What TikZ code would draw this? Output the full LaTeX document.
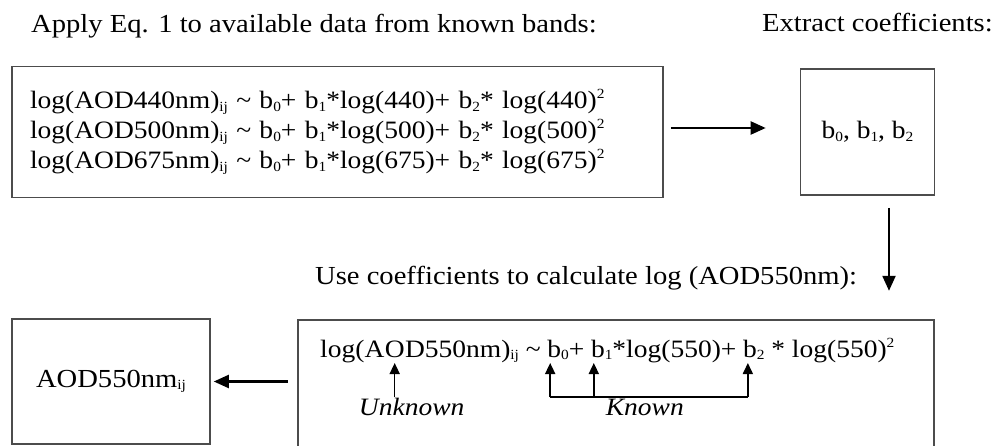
\documentclass[tikz,border=0pt]{standalone}
\usepackage{fontspec}
\setmainfont{Liberation Serif}[FakeStretch=1.1]
\usetikzlibrary{arrows.meta,positioning}

\newcommand{\lo}[1]{\raisebox{-0.1em}{\fontsize{14}{14}\selectfont #1}}
\newcommand{\hi}[1]{\raisebox{0.4em}{\fontsize{14}{14}\selectfont #1}}

\begin{document}
\begin{tikzpicture}[x=1pt,y=-1pt,
		txt/.style={inner sep=0pt,font=\fontsize{26}{30}\selectfont},
		eq/.style={inner sep=0pt,font=\fontsize{25}{30}\selectfont},
		note/.style={inner sep=0pt,font=\fontsize{25}{30}\selectfont\itshape},
		box/.style={draw=black!70,line width=1.6pt,inner sep=0pt,font=\fontsize{25}{30}\selectfont},
		arr/.style={line width=2.2pt,-{Triangle[length=15pt,width=13pt]}},
		smallarr/.style={line width=1.6pt,-{Triangle[length=11pt,width=10pt]}}]
		\useasboundingbox (0,0) rectangle (993,446);
		\clip (0,0) rectangle (993,446);
		\node[txt,anchor=base west] (applytitle) at (31,33) {Apply Eq. 1 to available data from known bands:};
		\node[txt,anchor=base west] (extracttitle) at (762,32) {Extract coefficients:};
		\node[box,minimum width=651,minimum height=131,text width=615pt,inner xsep=18pt,align=left] (knownbox) at (337.5,132)
			{log(AOD440nm)\lo{ij} \textasciitilde\ b\lo{0}+ b\lo{1}*log(440)+ b\lo{2}* log(440)\hi{2}\\
			 log(AOD500nm)\lo{ij} \textasciitilde\ b\lo{0}+ b\lo{1}*log(500)+ b\lo{2}* log(500)\hi{2}\\
			 log(AOD675nm)\lo{ij} \textasciitilde\ b\lo{0}+ b\lo{1}*log(675)+ b\lo{2}* log(675)\hi{2}};
		\node[box,minimum width=134,minimum height=126] (coefbox) at (867.5,132) {b\lo{0}, b\lo{1}, b\lo{2}};
		\node[txt,anchor=base west] (usetitle) at (315,285) {Use coefficients to calculate log (AOD550nm):};
		\node[box,minimum width=636,minimum height=150] (solvebox) at (616,395) {};
		\node[box,minimum width=198,minimum height=125,font=\fontsize{26}{30}\selectfont] (resultbox) at (111,381.5) {AOD550nm\lo{ij}};

		\node[eq,anchor=base west] (eqlog) at (320,357) {log(A};
		\node[eq,anchor=base west] (equnk) at (eqlog.base east) {O};
		\node[eq,anchor=base west] (eqmid) at (equnk.base east) {D550nm)\lo{ij} \textasciitilde\kern.25em};
		\node[eq,anchor=base west] (eqbzero) at (eqmid.base east) {b\lo{0}+\kern.25em};
		\node[eq,anchor=base west] (eqbone) at (eqbzero.base east) {b\lo{1}*log(550)+\kern.25em};
		\node[eq,anchor=base west] (eqbtwo) at (eqbone.base east) {b\lo{2} * log(550)\hi{2}};

		\draw[smallarr] ([yshift=-40pt]equnk.base) -- ([yshift=-6pt]equnk.base);
		\node[note,anchor=base] (unknownlbl) at ([xshift=17pt,yshift=-58pt]equnk.base) {Unknown};
		\coordinate (kzero) at ([xshift=3pt,yshift=-40pt]eqbzero.base west);
		\coordinate (kone) at ([xshift=3pt,yshift=-40pt]eqbone.base west);
		\coordinate (ktwo) at ([xshift=5pt,yshift=-40pt]eqbtwo.base west);
		\draw[line width=1.6pt] (kzero) -- (ktwo);
		\foreach \b/\s in {eqbzero/3,eqbone/3,eqbtwo/5}
			\draw[smallarr] ([xshift=\s pt,yshift=-40pt]\b.base west) -- ([xshift=\s pt,yshift=-6pt]\b.base west);
		\node[note,anchor=base] (knownlbl) at ([xshift=51pt,yshift=-18pt]kone) {Known};

		\draw[arr] ([xshift=7pt,yshift=4pt]knownbox.east) -- ([xshift=-34pt,yshift=4pt]coefbox.west);
		\draw[arr] ([xshift=21.5pt,yshift=-12pt]coefbox.south) -- ++(0,83);
		\draw[arr] ([xshift=77pt]resultbox.east) -- ([xshift=3pt]resultbox.east);
\end{tikzpicture}
\end{document}
